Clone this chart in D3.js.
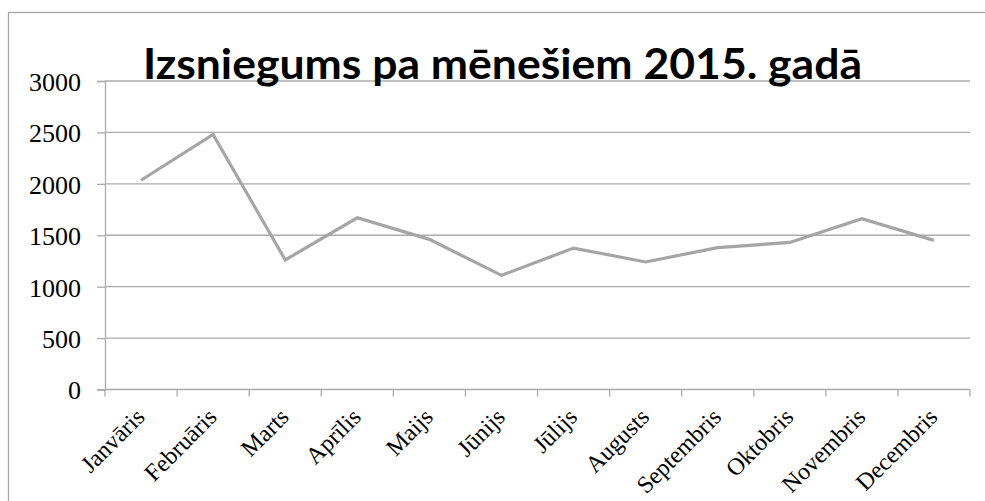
<!DOCTYPE html>
<html>
<head>
<meta charset="utf-8">
<script src="https://cdn.jsdelivr.net/npm/d3@7"></script>
<style>
  html, body { margin: 0; padding: 0; background: #fff; }
  svg { display: block; }
</style>
</head>
<body>
<svg id="chart" width="985" height="501"></svg>
<script>
const title = "Izsniegums pa mēnešiem 2015. gadā";
const months = ["Janvāris", "Februāris", "Marts", "Aprīlis", "Maijs", "Jūnijs",
                "Jūlijs", "Augusts", "Septembris", "Oktobris", "Novembris", "Decembris"];
const values = [2035, 2480, 1260, 1670, 1460, 1110, 1375, 1240, 1380, 1430, 1660, 1450];
const yTicks = [0, 500, 1000, 1500, 2000, 2500, 3000];

const svg = d3.select("#chart");
const plotL = 105, plotR = 970, plotT = 81, plotB = 389.5;
const gridColor = "#ababab";

// outer chart border (clipped at right / bottom like the reference)
svg.append("rect")
  .attr("x", 8.5).attr("y", 12.5)
  .attr("width", 1000).attr("height", 600)
  .attr("fill", "none").attr("stroke", "#a6a6a6").attr("stroke-width", 1.3);

const x = d3.scaleBand().domain(months).range([plotL, plotR]).paddingInner(0).paddingOuter(0);
const y = d3.scaleLinear().domain([0, 3000]).range([plotB, plotT]);

// gridlines
svg.append("g").selectAll("line").data(yTicks.filter(d => d > 0)).join("line")
  .attr("x1", plotL).attr("x2", plotR)
  .attr("y1", d => y(d)).attr("y2", d => y(d))
  .attr("stroke", gridColor).attr("stroke-width", 1.3);

// y axis
const yAxis = svg.append("g").attr("transform", `translate(${plotL},0)`)
  .call(d3.axisLeft(y).tickValues(yTicks).tickSize(8).tickPadding(16).tickFormat(d3.format("d")));
yAxis.select(".domain").attr("stroke", gridColor).attr("stroke-width", 1.3);
yAxis.selectAll(".tick line").attr("stroke", gridColor).attr("stroke-width", 1.3);
yAxis.selectAll(".tick text")
  .attr("font-family", "'Liberation Serif', 'Times New Roman', serif")
  .attr("font-size", 26).attr("fill", "#000").attr("dy", "0.36em");

// x axis line
svg.append("line").attr("x1", plotL).attr("x2", plotR).attr("y1", plotB).attr("y2", plotB)
  .attr("stroke", gridColor).attr("stroke-width", 1.3);
// boundary ticks
const bounds = months.map(m => x(m)).concat([x.range()[1]]);
svg.append("g").selectAll("line").data(bounds).join("line")
  .attr("x1", d => d).attr("x2", d => d)
  .attr("y1", plotB).attr("y2", plotB + 7)
  .attr("stroke", gridColor).attr("stroke-width", 1.3);

// x labels
svg.append("g").selectAll("text").data(months).join("text")
  .attr("transform", d => `translate(${x(d) + x.bandwidth() / 2 + 5},${plotB + 29}) rotate(-45)`)
  .attr("text-anchor", "end")
  .attr("font-family", "'Liberation Serif', 'Times New Roman', serif")
  .attr("font-size", 24).attr("fill", "#000")
  .text(d => d);

// line
const line = d3.line()
  .x((d, i) => x(months[i]) + x.bandwidth() / 2)
  .y(d => y(d));
svg.append("path").datum(values)
  .attr("d", line)
  .attr("fill", "none").attr("stroke", "#a5a5a5").attr("stroke-width", 3.2)
  .attr("stroke-linejoin", "miter");

// title
svg.append("text")
  .attr("x", 143).attr("y", 79)
  .attr("font-family", "Lato, 'Open Sans', sans-serif")
  .attr("font-weight", "bold").attr("font-size", 42).attr("fill", "#000")
  .attr("textLength", 719).attr("lengthAdjust", "spacingAndGlyphs")
  .text(title);
</script>
</body>
</html>
